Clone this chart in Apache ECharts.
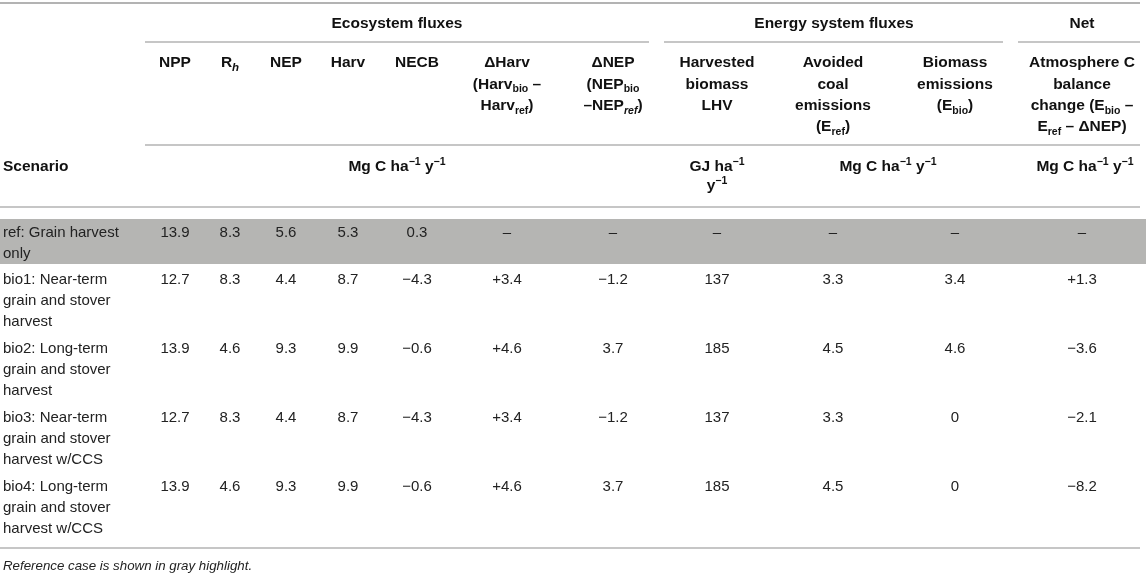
<!DOCTYPE html>
<html lang="en">
<head>
    <meta charset="UTF-8">
    <title>Ecosystem and energy system C fluxes</title>
    <script src="https://cdn.jsdelivr.net/npm/echarts@6/dist/echarts.min.js"></script>
    <style>
        html, body {
            margin: 0;
            padding: 0;
            background: #fff;
        }

        #table {
            width: 1148px;
            height: 575px;
        }
    </style>
</head>
<body>
<div id="table"></div>
<script>
    // ---- table content ----
    const scenarios = [
        'ref: Grain harvest only',
        'bio1: Near-term grain and stover harvest',
        'bio2: Long-term grain and stover harvest',
        'bio3: Near-term grain and stover harvest w/CCS',
        'bio4: Long-term grain and stover harvest w/CCS'
    ];
    const npp = [13.9, 12.7, 13.9, 12.7, 13.9];
    const rh = [8.3, 8.3, 4.6, 8.3, 4.6];
    const nep = [5.6, 4.4, 9.3, 4.4, 9.3];
    const harv = [5.3, 8.7, 9.9, 8.7, 9.9];
    const necb = [0.3, -4.3, -0.6, -4.3, -0.6];
    const deltaHarv = [null, 3.4, 4.6, 3.4, 4.6];
    const deltaNep = [null, -1.2, 3.7, -1.2, 3.7];
    const biomassLhv = [null, 137, 185, 137, 185];
    const avoidedCoal = [null, 3.3, 4.5, 3.3, 4.5];
    const biomassEmis = [null, 3.4, 4.6, 0, 0];
    const atmosChange = [null, 1.3, -3.6, -2.1, -8.2];

    const groupTitles = ['Ecosystem fluxes', 'Energy system fluxes', 'Net'];
    const columnLabels = [
        'NPP',
        'R{hi|h}',
        'NEP',
        'Harv',
        'NECB',
        'ΔHarv\n(Harv{sub|bio} –\nHarv{sub|ref})',
        'ΔNEP\n(NEP{sub|bio}\n–NEP{subi|ref})',
        'Harvested\nbiomass\nLHV',
        'Avoided\ncoal\nemissions\n(E{sub|ref})',
        'Biomass\nemissions\n(E{sub|bio})',
        'Atmosphere C\nbalance\nchange (E{sub|bio} –\nE{sub|ref} – ΔNEP)'
    ];
    const unitLabels = [
        'Scenario',
        'Mg C ha{sup|−1} y{sup|−1}',
        'GJ ha{sup|−1}\ny{sup|−1}',
        'Mg C ha{sup|−1} y{sup|−1}',
        'Mg C ha{sup|−1} y{sup|−1}'
    ];
    const footnote = 'Reference case is shown in gray highlight.';

    const columns = [npp, rh, nep, harv, necb, deltaHarv, deltaNep,
        biomassLhv, avoidedCoal, biomassEmis, atmosChange];
    const plusShown = [5, 10];   // columns that print an explicit "+"

    // ---- layout (page units, the hidden axes run 0..1148 x 0..575) ----
    const colX = [175, 230, 286, 348, 417, 507, 613, 717, 833, 955, 1082];
    const rowY = [233, 280, 349, 418, 487];      // centre of a row's first line
    const groupX = [397, 834, 1082];
    const unitX = [3, 397, 717, 888, 1085];
    const rules = [
        [0, 1140, 3, 2],
        [145, 649, 42, 1.5], [664, 1003, 42, 1.5], [1018, 1140, 42, 1.5],
        [145, 1140, 145, 1.5],
        [0, 1140, 207, 1.5],
        [0, 1140, 548, 1.5]
    ];
    const band = [0, 1146, 219, 264];

    const font = '"Liberation Sans", Arial, Helvetica, sans-serif';
    const ink = '#222';
    const ruleColor = '#b3b3b3';

    function fmt(v, plus) {
        if (v === null) return '–';
        const s = String(Math.abs(v));
        if (v < 0) return '−' + s;
        if (plus && v > 0) return '+' + s;
        return s;
    }

    const headRich = {
        sub: {fontFamily: font, fontWeight: 'bold', fontSize: 10.5, verticalAlign: 'bottom', lineHeight: 14},
        subi: {fontFamily: font, fontWeight: 'bold', fontStyle: 'italic', fontSize: 10.5, verticalAlign: 'bottom', lineHeight: 14},
        hi: {fontFamily: font, fontWeight: 'bold', fontStyle: 'italic', fontSize: 11.5, verticalAlign: 'bottom', lineHeight: 15},
        sup: {fontFamily: font, fontWeight: 'bold', fontSize: 10.5, verticalAlign: 'top', lineHeight: 16}
    };

    // cells: [x, yTop, col, row], col -1 is the scenario name
    const cellData = [];
    scenarios.forEach((name, r) => {
        cellData.push([3, rowY[r] - 10.5, -1, r]);
        columns.forEach((col, c) => cellData.push([colX[c], rowY[r] - 10.5, c, r]));
    });

    // headers: [x, yTop, kind, index]
    const headData = [];
    groupTitles.forEach((t, i) => headData.push([groupX[i], 24 - 10.5, 0, i]));
    columnLabels.forEach((t, i) => headData.push([colX[i], 63 - 10.65, 1, i]));
    unitLabels.forEach((t, i) => headData.push([unitX[i], 167 - 10.5, 2, i]));
    headData.push([3, 566 - 9, 3, 0]);

    const chart = echarts.init(document.getElementById('table'), null, {renderer: 'canvas'});
    chart.setOption({
        animation: false,
        grid: {left: 0, right: 0, top: 0, bottom: 0},
        xAxis: {type: 'value', min: 0, max: 1148, show: false},
        yAxis: {type: 'value', min: 0, max: 575, inverse: true, show: false},
        series: [
            {
                type: 'custom',
                data: [band],
                encode: {x: [0, 1], y: [2, 3]},
                renderItem: function (params, api) {
                    const a = api.coord([api.value(0), api.value(2)]);
                    const b = api.coord([api.value(1), api.value(3)]);
                    return {
                        type: 'rect',
                        shape: {x: a[0], y: a[1], width: b[0] - a[0], height: b[1] - a[1]},
                        style: {fill: '#b5b5b3'}
                    };
                }
            },
            {
                type: 'custom',
                data: rules,
                encode: {x: [0, 1], y: 2},
                renderItem: function (params, api) {
                    const a = api.coord([api.value(0), api.value(2)]);
                    const b = api.coord([api.value(1), api.value(2)]);
                    return {
                        type: 'line',
                        shape: {x1: a[0], y1: a[1], x2: b[0], y2: b[1]},
                        style: {stroke: ruleColor, lineWidth: api.value(3)}
                    };
                }
            },
            {
                type: 'custom',
                data: cellData,
                encode: {x: 0, y: 1},
                renderItem: function (params, api) {
                    const c = api.value(2), r = api.value(3);
                    const p = api.coord([api.value(0), api.value(1)]);
                    const isName = c < 0;
                    const style = {
                        text: isName ? scenarios[r] : fmt(columns[c][r], plusShown.includes(c)),
                        fill: ink,
                        fontFamily: font,
                        fontSize: 15,
                        lineHeight: 21,
                        align: isName ? 'left' : 'center',
                        verticalAlign: 'top'
                    };
                    if (isName) {
                        style.width = 140;
                        style.overflow = 'break';
                    }
                    return {type: 'text', x: p[0], y: p[1], style: style};
                }
            },
            {
                type: 'custom',
                data: headData,
                encode: {x: 0, y: 1},
                renderItem: function (params, api) {
                    const kind = api.value(2), i = api.value(3);
                    const p = api.coord([api.value(0), api.value(1)]);
                    let style;
                    if (kind === 3) {
                        style = {
                            text: footnote, fill: ink, fontFamily: font, fontSize: 13.3,
                            fontStyle: 'italic', align: 'left', verticalAlign: 'top', lineHeight: 18
                        };
                    } else {
                        const text = kind === 0 ? groupTitles[i] : kind === 1 ? columnLabels[i] : unitLabels[i];
                        style = {
                            text: text,
                            fill: '#111',
                            fontFamily: font,
                            fontWeight: 'bold',
                            fontSize: 15.5,
                            lineHeight: kind === 1 ? 21.3 : 19.5,
                            align: kind === 2 && i === 0 ? 'left' : 'center',
                            verticalAlign: 'top',
                            rich: headRich
                        };
                    }
                    return {type: 'text', x: p[0], y: p[1], style: style};
                }
            }
        ]
    });
</script>
</body>
</html>
